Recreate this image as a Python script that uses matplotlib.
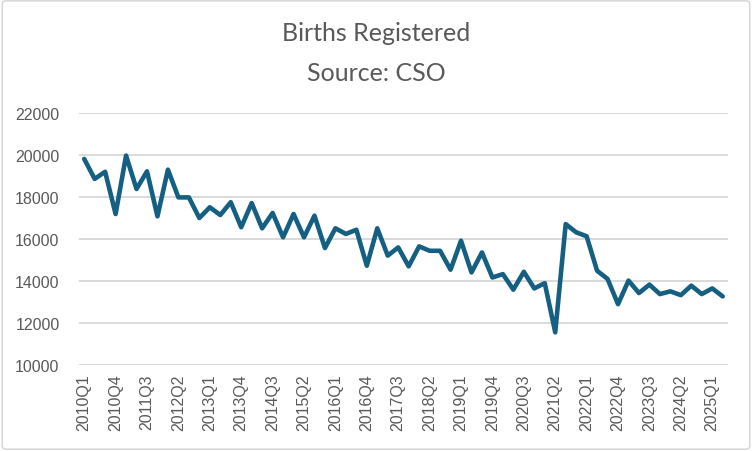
import numpy as np
import matplotlib
matplotlib.use("Agg")
import matplotlib.pyplot as plt
from matplotlib.patches import FancyBboxPatch

# quarterly births registered, 2010Q1 .. 2025Q2
years = list(range(2010, 2026))
quarters = [f"{y}Q{q}" for y in years for q in range(1, 5)][:62]

births = [
    19810, 18860, 19200, 17190, 19970, 18380, 19220, 17080,
    19300, 17980, 17980, 17000, 17510, 17140, 17750, 16560,
    17710, 16510, 17240, 16080, 17190, 16080, 17110, 15570,
    16510, 16240, 16440, 14730, 16510, 15210, 15600, 14700,
    15650, 15440, 15440, 14540, 15920, 14410, 15360, 14170,
    14330, 13590, 14440, 13650, 13900, 11560, 16710, 16320,
    16130, 14490, 14100, 12900, 14020, 13430, 13830, 13380,
    13510, 13330, 13780, 13380, 13650, 13270,
]

yticks = [10000, 12000, 14000, 16000, 18000, 20000, 22000]
title_lines = ["Births Registered", "Source: CSO"]

plt.rcParams['font.family'] = ['Liberation Sans', 'DejaVu Sans']
grey = '#595959'

fig = plt.figure(figsize=(7.52, 4.52), dpi=100)
ax = fig.add_axes([0.105, 0.190, 0.863, 0.558])

x = np.arange(len(births))
ax.plot(x, births, color='#156082', linewidth=3.3, solid_joinstyle='round',
        solid_capstyle='round', zorder=3)

ax.set_xlim(-0.5, len(births) - 0.5)
ax.set_ylim(10000, 22000)
ax.set_yticks(yticks)
ax.set_xticks(x[::3])
ax.set_xticklabels(quarters[::3], rotation=90)
ax.tick_params(axis='both', length=0, colors=grey, labelsize=11.5)
ax.tick_params(axis='y', pad=14)
ax.tick_params(axis='x', pad=6)
ax.grid(axis='y', color='#d9d9d9', linewidth=1.4)
ax.set_axisbelow(True)
for s in ax.spines.values():
    s.set_visible(False)

# two title lines, placed separately
fig.text(0.5, 0.925, title_lines[0], ha='center', va='center',
         fontsize=18, color=grey, family=['Lato', 'DejaVu Sans'])
fig.text(0.5, 0.838, title_lines[1], ha='center', va='center',
         fontsize=18, color=grey, family=['Lato', 'DejaVu Sans'])

border = FancyBboxPatch((0.003, 0.004), 0.994, 0.992, transform=fig.transFigure,
                        boxstyle='round,pad=0,rounding_size=0.006',
                        facecolor='none', edgecolor='#d9d9d9', linewidth=1.2)
fig.patches.append(border)

fig.savefig('out.png', dpi=100)
